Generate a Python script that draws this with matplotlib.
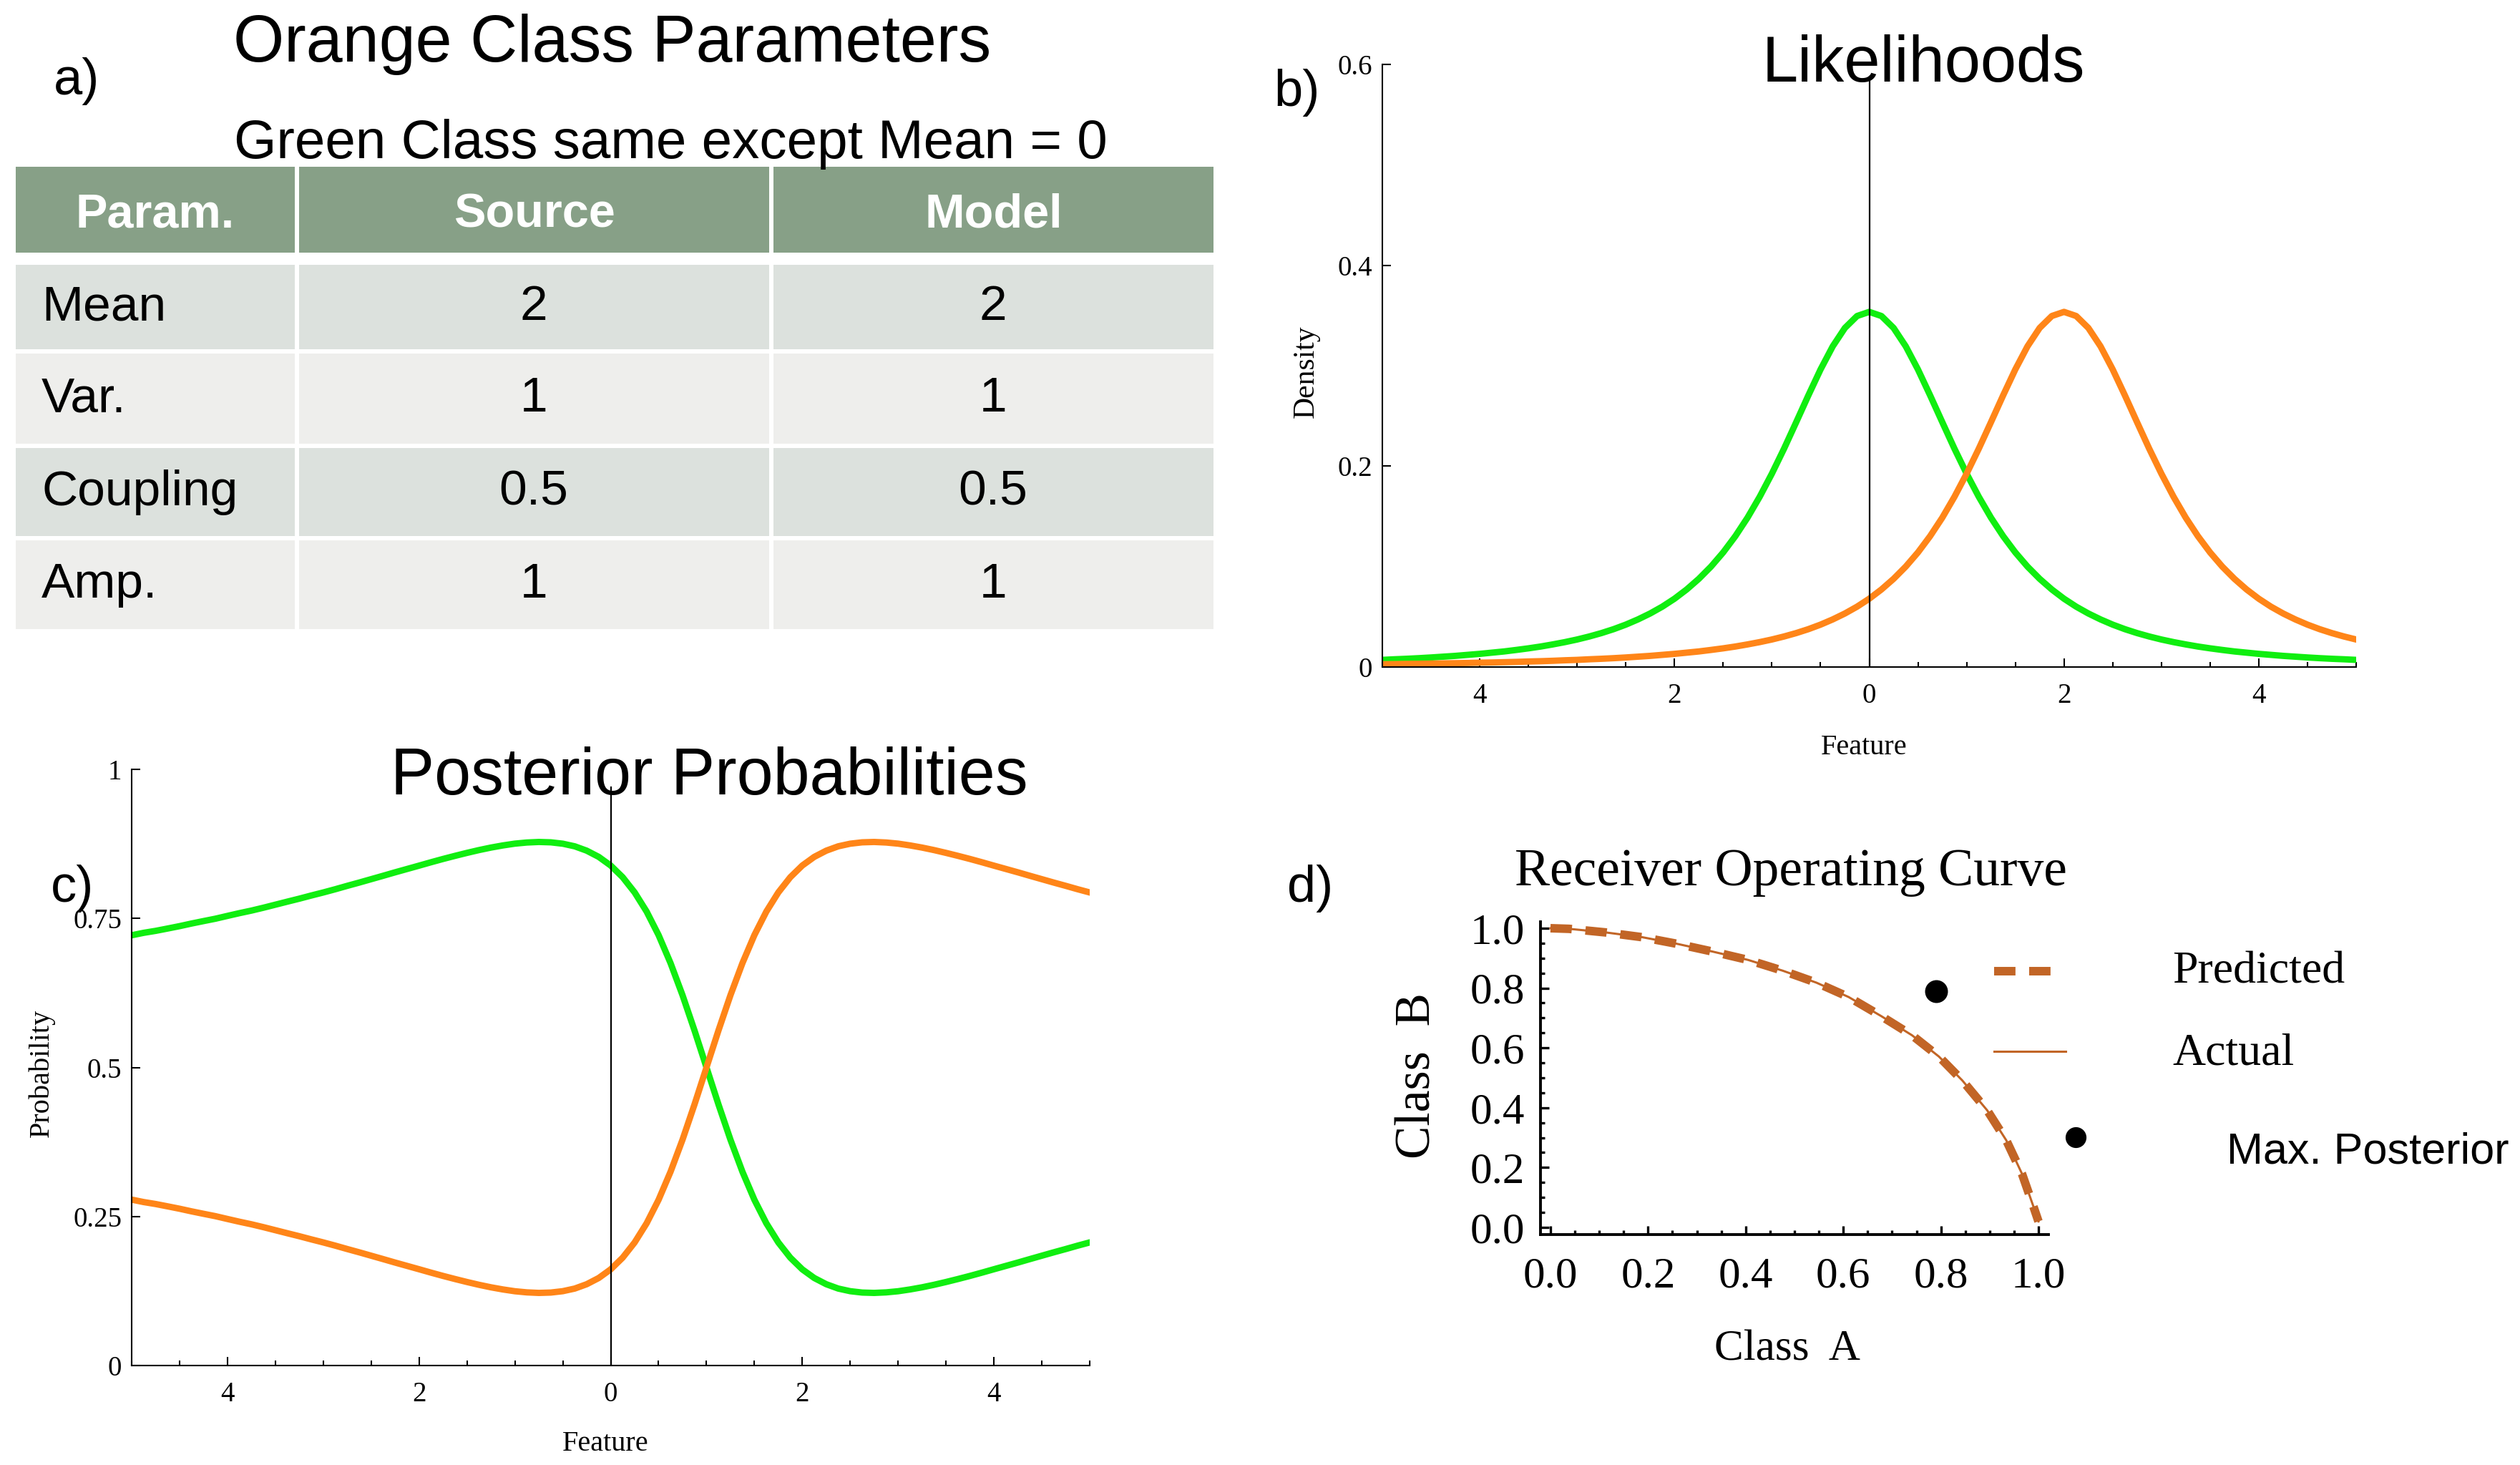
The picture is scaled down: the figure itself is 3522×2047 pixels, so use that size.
import matplotlib
matplotlib.use('Agg')
import matplotlib.pyplot as plt
from matplotlib.patches import Rectangle
from matplotlib.ticker import MultipleLocator

# ---------------- data ----------------
param_header = ['Param.', 'Source', 'Model']
param_names = ['Mean', 'Var.', 'Coupling', 'Amp.']
source_values = ['2', '1', '0.5', '1']
model_values = ['2', '1', '0.5', '1']

feature = [-5.0, -4.875, -4.75, -4.625, -4.5, -4.375, -4.25, -4.125,
           -4.0, -3.875, -3.75, -3.625, -3.5, -3.375, -3.25, -3.125,
           -3.0, -2.875, -2.75, -2.625, -2.5, -2.375, -2.25, -2.125,
           -2.0, -1.875, -1.75, -1.625, -1.5, -1.375, -1.25, -1.125,
           -1.0, -0.875, -0.75, -0.625, -0.5, -0.375, -0.25, -0.125,
           0.0, 0.125, 0.25, 0.375, 0.5, 0.625, 0.75, 0.875,
           1.0, 1.125, 1.25, 1.375, 1.5, 1.625, 1.75, 1.875,
           2.0, 2.125, 2.25, 2.375, 2.5, 2.625, 2.75, 2.875,
           3.0, 3.125, 3.25, 3.375, 3.5, 3.625, 3.75, 3.875,
           4.0, 4.125, 4.25, 4.375, 4.5, 4.625, 4.75, 4.875, 5.0]

likelihood_green = [0.0071, 0.0077, 0.0082, 0.0088, 0.0095, 0.0103, 0.0111, 0.0121,
                    0.0131, 0.0143, 0.0155, 0.0170, 0.0186, 0.0204, 0.0225, 0.0248,
                    0.0274, 0.0304, 0.0338, 0.0377, 0.0422, 0.0474, 0.0533, 0.0601,
                    0.0680, 0.0772, 0.0878, 0.1000, 0.1141, 0.1303, 0.1487, 0.1695,
                    0.1925, 0.2174, 0.2438, 0.2705, 0.2963, 0.3193, 0.3376, 0.3495,
                    0.3536, 0.3495, 0.3376, 0.3193, 0.2963, 0.2705, 0.2438, 0.2174,
                    0.1925, 0.1695, 0.1487, 0.1303, 0.1141, 0.1000, 0.0878, 0.0772,
                    0.0680, 0.0601, 0.0533, 0.0474, 0.0422, 0.0377, 0.0338, 0.0304,
                    0.0274, 0.0248, 0.0225, 0.0204, 0.0186, 0.0170, 0.0155, 0.0143,
                    0.0131, 0.0121, 0.0111, 0.0103, 0.0095, 0.0088, 0.0082, 0.0077, 0.0071]

likelihood_orange = [0.0028, 0.0029, 0.0031, 0.0032, 0.0034, 0.0036, 0.0038, 0.0040,
                     0.0043, 0.0045, 0.0048, 0.0051, 0.0055, 0.0058, 0.0062, 0.0067,
                     0.0071, 0.0077, 0.0082, 0.0088, 0.0095, 0.0103, 0.0111, 0.0121,
                     0.0131, 0.0143, 0.0155, 0.0170, 0.0186, 0.0204, 0.0225, 0.0248,
                     0.0274, 0.0304, 0.0338, 0.0377, 0.0422, 0.0474, 0.0533, 0.0601,
                     0.0680, 0.0772, 0.0878, 0.1000, 0.1141, 0.1303, 0.1487, 0.1695,
                     0.1925, 0.2174, 0.2438, 0.2705, 0.2963, 0.3193, 0.3376, 0.3495,
                     0.3536, 0.3495, 0.3376, 0.3193, 0.2963, 0.2705, 0.2438, 0.2174,
                     0.1925, 0.1695, 0.1487, 0.1303, 0.1141, 0.1000, 0.0878, 0.0772,
                     0.0680, 0.0601, 0.0533, 0.0474, 0.0422, 0.0377, 0.0338, 0.0304, 0.0274]

posterior_green = [0.7217, 0.7258, 0.7291, 0.7330, 0.7370, 0.7414, 0.7455, 0.7495,
                   0.7542, 0.7588, 0.7631, 0.7679, 0.7730, 0.7781, 0.7831, 0.7884,
                   0.7935, 0.7989, 0.8046, 0.8101, 0.8158, 0.8215, 0.8273, 0.8329,
                   0.8385, 0.8442, 0.8497, 0.8549, 0.8599, 0.8646, 0.8688, 0.8724,
                   0.8754, 0.8773, 0.8782, 0.8776, 0.8753, 0.8709, 0.8636, 0.8532,
                   0.8387, 0.8191, 0.7936, 0.7615, 0.7220, 0.6749, 0.6211, 0.5620,
                   0.5000, 0.4380, 0.3789, 0.3251, 0.2780, 0.2385, 0.2064, 0.1809,
                   0.1613, 0.1468, 0.1364, 0.1291, 0.1247, 0.1224, 0.1218, 0.1227,
                   0.1246, 0.1276, 0.1312, 0.1354, 0.1401, 0.1451, 0.1503, 0.1558,
                   0.1615, 0.1671, 0.1727, 0.1785, 0.1842, 0.1899, 0.1954, 0.2011, 0.2065]

posterior_orange = [0.2783, 0.2742, 0.2709, 0.2670, 0.2630, 0.2586, 0.2545, 0.2505,
                    0.2458, 0.2412, 0.2369, 0.2321, 0.2270, 0.2219, 0.2169, 0.2116,
                    0.2065, 0.2011, 0.1954, 0.1899, 0.1842, 0.1785, 0.1727, 0.1671,
                    0.1615, 0.1558, 0.1503, 0.1451, 0.1401, 0.1354, 0.1312, 0.1276,
                    0.1246, 0.1227, 0.1218, 0.1224, 0.1247, 0.1291, 0.1364, 0.1468,
                    0.1613, 0.1809, 0.2064, 0.2385, 0.2780, 0.3251, 0.3789, 0.4380,
                    0.5000, 0.5620, 0.6211, 0.6749, 0.7220, 0.7615, 0.7936, 0.8191,
                    0.8387, 0.8532, 0.8636, 0.8709, 0.8753, 0.8776, 0.8782, 0.8773,
                    0.8754, 0.8724, 0.8688, 0.8646, 0.8599, 0.8549, 0.8497, 0.8442,
                    0.8385, 0.8329, 0.8273, 0.8215, 0.8158, 0.8101, 0.8046, 0.7989, 0.7935]

roc_class_a = [0.0, 0.038, 0.113, 0.188, 0.259, 0.332, 0.405, 0.476, 0.545, 0.611,
               0.678, 0.741, 0.796, 0.844, 0.895, 0.934, 0.966, 0.990, 1.0]
roc_class_b = [1.0, 0.998, 0.986, 0.970, 0.948, 0.922, 0.894, 0.858, 0.818, 0.770,
               0.706, 0.642, 0.571, 0.491, 0.391, 0.291, 0.180, 0.068, 0.02]
max_post_a = [0.79]
max_post_b = [0.79]

feature_ticks = [-4, -2, 0, 2, 4]
feature_ticklabels = ['4', '2', '0', '2', '4']
density_ticks = [0, 0.2, 0.4, 0.6]
density_ticklabels = ['0', '0.2', '0.4', '0.6']
prob_ticks = [0, 0.25, 0.5, 0.75, 1]
prob_ticklabels = ['0', '0.25', '0.5', '0.75', '1']
roc_ticks = [0, 0.2, 0.4, 0.6, 0.8, 1.0]
roc_ticklabels = ['0.0', '0.2', '0.4', '0.6', '0.8', '1.0']

# ---------------- style ----------------
W, H = 3522, 2047
DPI = 200
SERIF = 'Liberation Serif'
SANS = 'Liberation Sans'
GREEN = '#10EE10'
ORANGE = '#FF8518'
ROC = '#C26526'
HEADER = '#87A087'
ROW_DARK = '#DCE1DD'
ROW_LIGHT = '#EEEEEC'

plt.rcParams['font.family'] = SERIF


def box(left, top, right, bottom):
    # pixel box -> figure fraction
    return [left / W, 1 - bottom / H, (right - left) / W, (bottom - top) / H]


fig = plt.figure(figsize=(W / DPI, H / DPI), dpi=DPI, facecolor='white')

# overlay in pixel coordinates for table, titles and the ROC key
ov = fig.add_axes([0, 0, 1, 1], zorder=5)
ov.set_xlim(0, W)
ov.set_ylim(H, 0)
ov.axis('off')
ov.patch.set_visible(False)

# ---------------- a) table ----------------
col_edges = [22, 415, 1078, 1696]
header_span = (233, 353)
row_spans = [(370, 488), (494, 620), (626, 749), (755, 879)]
gap = 3

for c in range(3):
    x0 = col_edges[c] + (gap if c > 0 else 0)
    x1 = col_edges[c + 1] - (gap if c < 2 else 0)
    ov.add_patch(Rectangle((x0, header_span[0]), x1 - x0, header_span[1] - header_span[0],
                           facecolor=HEADER, edgecolor='none'))
    cx = (x0 + x1) / 2
    ov.text(cx, (header_span[0] + header_span[1]) / 2 + 24, param_header[c], family=SANS,
            fontsize=24, fontweight='bold', color='white', ha='center', va='baseline')
    for r, (y0, y1) in enumerate(row_spans):
        ov.add_patch(Rectangle((x0, y0), x1 - x0, y1 - y0,
                               facecolor=ROW_DARK if r % 2 == 0 else ROW_LIGHT, edgecolor='none'))

for r, (y0, y1) in enumerate(row_spans):
    base = (y0 + y1) / 2 + 18
    ov.text(58, base, param_names[r], family=SANS, fontsize=25, ha='left', va='baseline')
    ov.text(746, base, source_values[r], family=SANS, fontsize=25, ha='center', va='baseline')
    ov.text(1388, base, model_values[r], family=SANS, fontsize=25, ha='center', va='baseline')

ov.text(107, 132, 'a)', family=SANS, fontsize=26, ha='center', va='baseline')
ov.text(856, 86, 'Orange Class Parameters', family=SANS, fontsize=33, ha='center', va='baseline')
ov.text(937, 221, 'Green Class same except Mean = 0', family=SANS, fontsize=27.5,
        ha='center', va='baseline')


def style_feature_axes(ax):
    ax.set_facecolor('none')
    for s in ['top', 'right']:
        ax.spines[s].set_visible(False)
    for s in ['left', 'bottom']:
        ax.spines[s].set_linewidth(0.75)
    ax.set_xlim(-5, 5)
    ax.set_xticks(feature_ticks)
    ax.set_xticklabels(feature_ticklabels)
    ax.xaxis.set_minor_locator(MultipleLocator(0.5))
    ax.tick_params(which='both', direction='in', width=0.75, labelsize=14)
    ax.tick_params(which='major', length=4.3)
    ax.tick_params(which='minor', length=2.5)
    ax.tick_params(axis='x', pad=8)
    ax.tick_params(axis='y', pad=5)


# ---------------- b) likelihoods ----------------
ax_b = fig.add_axes(box(1932, 90, 3293, 932))
ax_b.plot(feature, likelihood_green, color=GREEN, lw=3.2)
ax_b.plot(feature, likelihood_orange, color=ORANGE, lw=3.2)
ax_b.axvline(0, ymax=0.98, color='black', lw=0.8, zorder=3)
style_feature_axes(ax_b)
ax_b.set_ylim(0, 0.6)
ax_b.set_yticks(density_ticks)
ax_b.set_yticklabels(density_ticklabels)
ax_b.set_xlabel('Feature', fontsize=14.5, va='center')
ax_b.xaxis.set_label_coords(0.4945, -0.134)
ax_b.set_ylabel('Density', fontsize=15, va='center')
ax_b.yaxis.set_label_coords(-0.0786, 0.49)

ov.text(2688, 114, 'Likelihoods', family=SANS, fontsize=32.5, ha='center', va='baseline')
ov.text(1813, 148, 'b)', family=SANS, fontsize=26, ha='center', va='baseline')

# ---------------- c) posteriors ----------------
ax_c = fig.add_axes(box(184, 1075, 1523, 1908))
ax_c.plot(feature, posterior_green, color=GREEN, lw=3.2)
ax_c.plot(feature, posterior_orange, color=ORANGE, lw=3.2)
ax_c.axvline(0, ymax=0.97, color='black', lw=0.8, zorder=3)
style_feature_axes(ax_c)
ax_c.set_ylim(0, 1)
ax_c.set_yticks(prob_ticks)
ax_c.set_yticklabels(prob_ticklabels)
ax_c.set_xlabel('Feature', fontsize=14.5, va='center')
ax_c.xaxis.set_label_coords(0.4944, -0.132)
ax_c.set_ylabel('Probability', fontsize=14.5, va='center')
ax_c.yaxis.set_label_coords(-0.094, 0.49)

ov.text(991, 1110, 'Posterior Probabilities', family=SANS, fontsize=33, ha='center', va='baseline')
ov.text(101, 1260, 'c)', family=SANS, fontsize=26, ha='center', va='baseline')

# ---------------- d) ROC ----------------
ax_d = fig.add_axes(box(2153, 1288, 2863, 1725))
ax_d.set_facecolor('none')
ax_d.plot(roc_class_a, roc_class_b, color=ROC, lw=1.1)
ax_d.plot(roc_class_a, roc_class_b, color=ROC, lw=4.3, linestyle=(0, (2.5, 1.6)),
          dash_capstyle='butt')
ax_d.plot(max_post_a, max_post_b, 'o', color='black', ms=10.5)
ax_d.set_xlim(-0.0205, 1.0205)
ax_d.set_ylim(-0.024, 1.0215)
for s in ['top', 'right']:
    ax_d.spines[s].set_visible(False)
for s in ['left', 'bottom']:
    ax_d.spines[s].set_linewidth(1.4)
ax_d.set_xticks(roc_ticks)
ax_d.set_xticklabels(roc_ticklabels)
ax_d.set_yticks(roc_ticks)
ax_d.set_yticklabels(roc_ticklabels)
ax_d.xaxis.set_minor_locator(MultipleLocator(0.05))
ax_d.yaxis.set_minor_locator(MultipleLocator(0.05))
ax_d.tick_params(which='both', direction='in', width=1.2, labelsize=22)
ax_d.tick_params(which='major', length=4.3)
ax_d.tick_params(which='minor', length=2.2)
ax_d.tick_params(axis='x', pad=11)
ax_d.tick_params(axis='y', pad=8)
ax_d.set_xlabel('Class  A', fontsize=22, va='center')
ax_d.xaxis.set_label_coords(0.486, -0.368)
ax_d.set_ylabel('Class  B', fontsize=25, va='center')
ax_d.yaxis.set_label_coords(-0.241, 0.508)

ov.text(2503, 1237, 'Receiver Operating Curve', family=SERIF, fontsize=26.5, ha='center', va='baseline')
ov.text(1831, 1260, 'd)', family=SANS, fontsize=26, ha='center', va='baseline')

# key for the ROC panel
ov.plot([2787, 2866], [1357, 1357], color=ROC, lw=4.3, linestyle=(0, (2.5, 1.6)),
        dash_capstyle='butt')
ov.plot([2787, 2887], [1469, 1469], color=ROC, lw=1.1)
ov.plot([2901], [1589], 'o', color='black', ms=9.5)
ov.text(3036, 1374, 'Predicted', family=SERIF, fontsize=23, ha='left', va='baseline')
ov.text(3036, 1488, 'Actual', family=SERIF, fontsize=23, ha='left', va='baseline')
ov.text(3112, 1625, 'Max. Posterior', family=SANS, fontsize=22, ha='left', va='baseline')

fig.savefig('out.png', dpi=DPI)
